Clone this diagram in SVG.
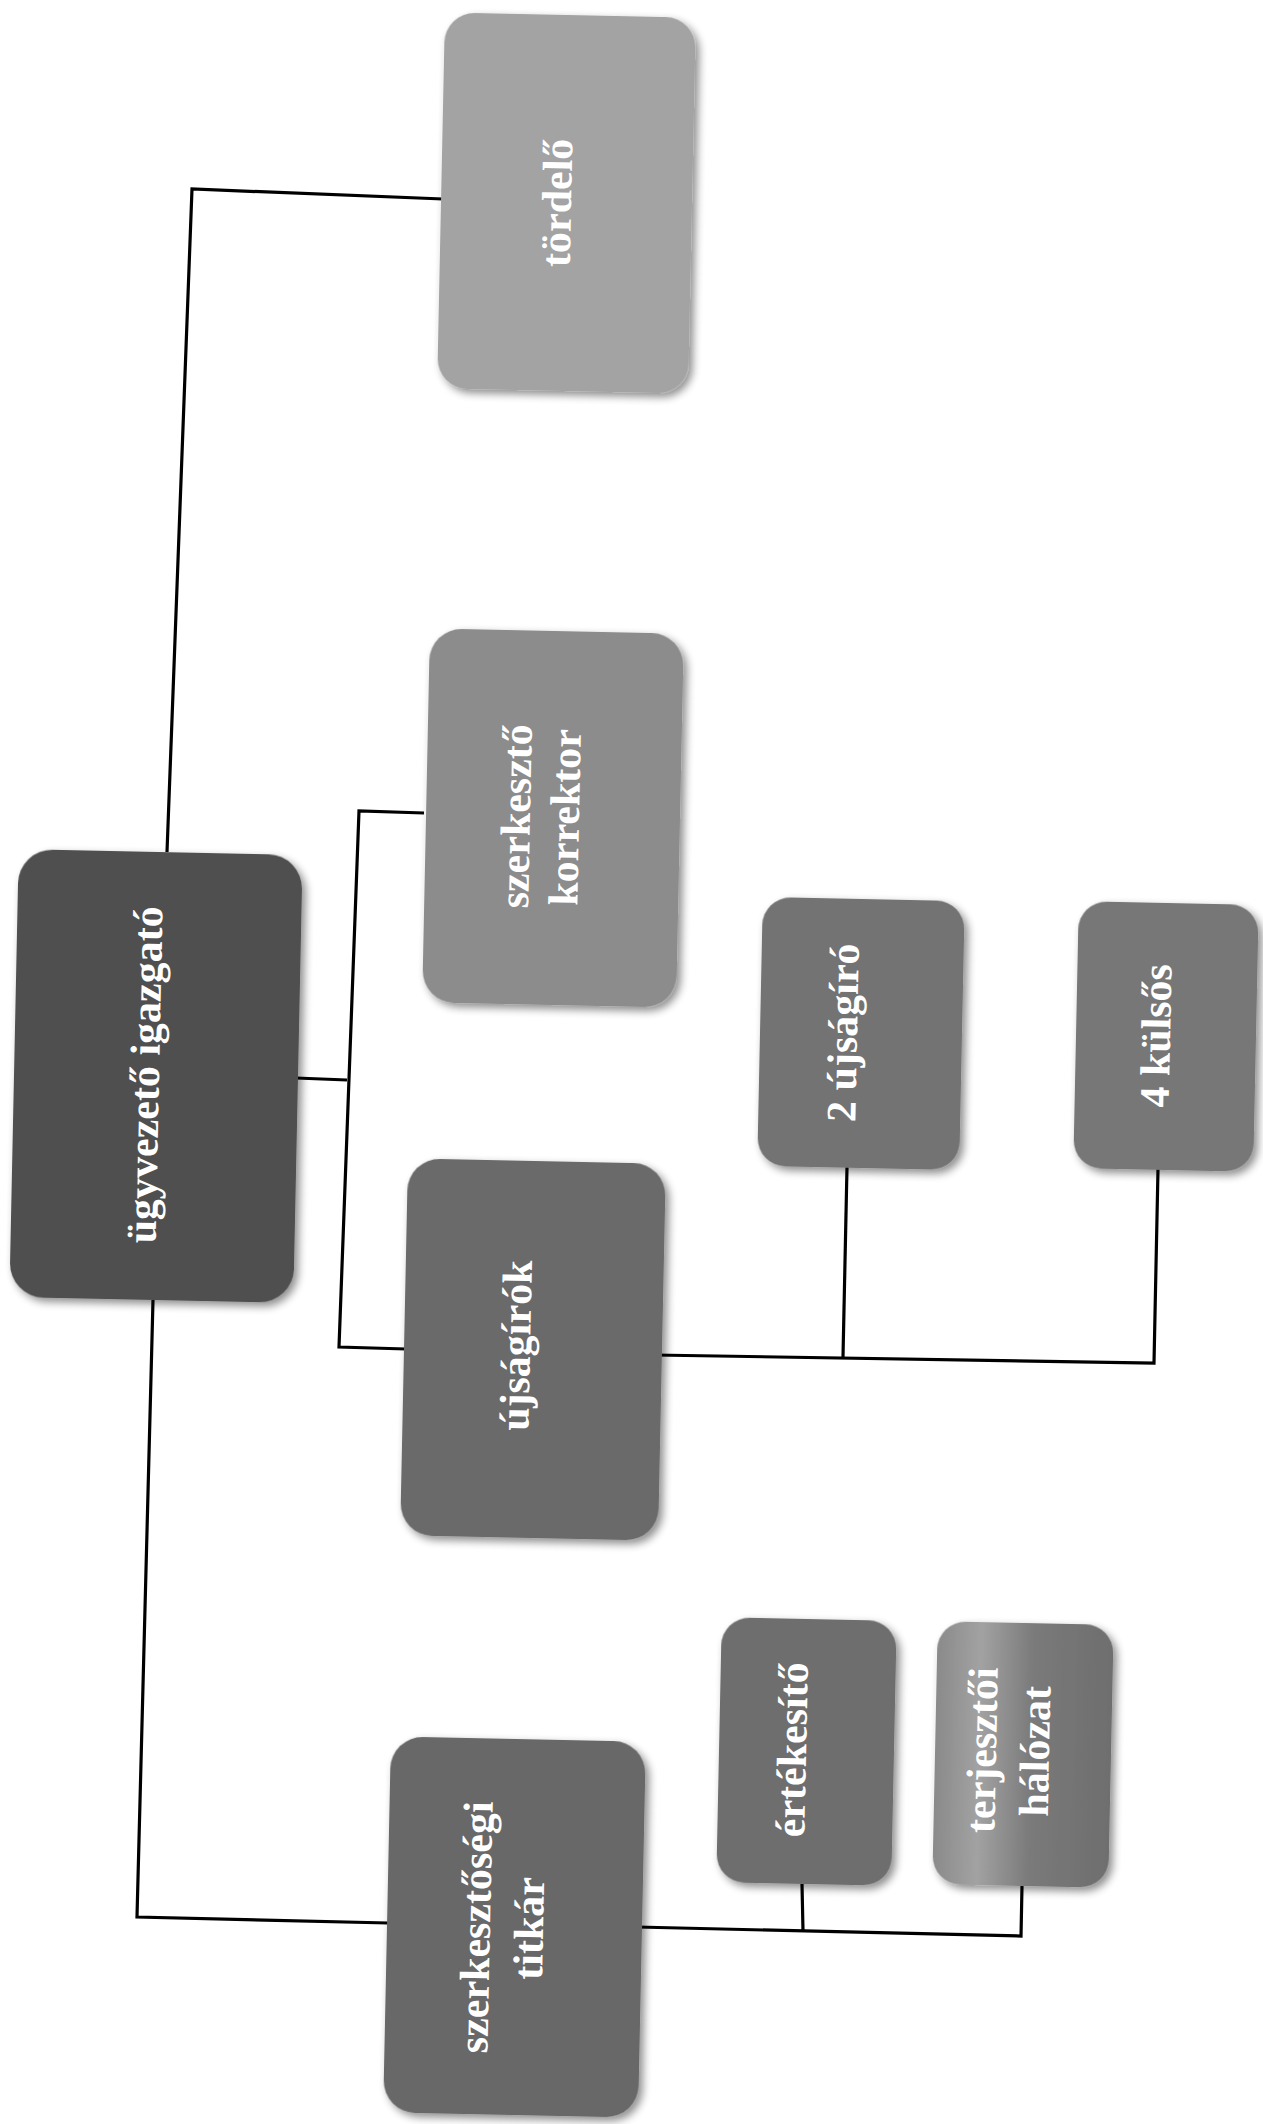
<svg xmlns="http://www.w3.org/2000/svg" width="1263" height="2124" viewBox="0 0 1263 2124">
<style>
.box{stroke:none}
.lbl{font-family:"Liberation Serif","Times New Roman",serif;font-weight:bold;font-size:42px;fill:#ffffff;text-anchor:middle}
.conn{fill:none;stroke:#000;stroke-width:3.2;stroke-linejoin:miter}
</style>
<defs>
<filter id="sh" x="-10%" y="-10%" width="125%" height="125%">
<feGaussianBlur in="SourceAlpha" stdDeviation="4"/>
<feOffset dx="4" dy="4" result="b"/>
<feComponentTransfer><feFuncA type="linear" slope="0.45"/></feComponentTransfer>
<feMerge><feMergeNode/><feMergeNode in="SourceGraphic"/></feMerge>
</filter>
<linearGradient id="gTerj" x1="0" y1="0" x2="1" y2="0">
<stop offset="0" stop-color="#8a8a8a"/>
<stop offset="0.25" stop-color="#a2a2a2"/>
<stop offset="0.55" stop-color="#7a7a7a"/>
<stop offset="1" stop-color="#6e6e6e"/>
</linearGradient>
</defs>
<rect width="1263" height="2124" fill="#ffffff"/>

<g id="connectors">
<polyline class="conn" points="443,199 192,189 167,852"/>
<polyline class="conn" points="153,1300 137,1917 388,1923"/>
<polyline class="conn" points="296,1078 347,1080"/>
<polyline class="conn" points="424,813 359,811 339,1347 406,1349"/>
<polyline class="conn" points="654,1355 1154,1363 1158,1169"/>
<polyline class="conn" points="843,1357 847,1167"/>
<polyline class="conn" points="637,1927 1021,1936 1022,1886"/>
<polyline class="conn" points="803,1931 802,1884"/>
</g>

<g id="node-tordelo" transform="rotate(1.2 566 203)">
<rect class="box" filter="url(#sh)" x="441" y="15" width="251" height="376" rx="30" fill="#a3a3a3"/>
<text class="lbl" transform="translate(557,203) rotate(-90)" x="0" y="14">tördelő</text>
</g>

<g id="node-ugyvezeto" transform="rotate(1.2 156 1076)">
<rect class="box" filter="url(#sh)" x="14" y="852" width="284" height="448" rx="34" fill="#4f4f4f"/>
<text class="lbl" transform="translate(145,1075) rotate(-90)" x="0" y="14">ügyvezető igazgató</text>
</g>

<g id="node-szerkeszto-korrektor" transform="rotate(1.2 553 818)">
<rect class="box" filter="url(#sh)" x="426" y="631" width="254" height="374" rx="32" fill="#8c8c8c"/>
<text class="lbl" transform="translate(540,817) rotate(-90)"><tspan x="0" y="-10">szerkesztő</tspan><tspan x="0" y="39">korrektor</tspan></text>
</g>

<g id="node-ujsagirok" transform="rotate(1.2 533 1350)">
<rect class="box" filter="url(#sh)" x="404" y="1161" width="258" height="377" rx="32" fill="#6b6b6b"/>
<text class="lbl" transform="translate(516,1346) rotate(-90)" x="0" y="14">újságírók</text>
</g>

<g id="node-2-ujsagiro" transform="rotate(1.2 861 1033)">
<rect class="box" filter="url(#sh)" x="760" y="899" width="202" height="269" rx="28" fill="#737373"/>
<text class="lbl" transform="translate(843,1033) rotate(-90)" x="0" y="14">2 újságíró</text>
</g>

<g id="node-4-kulsos" transform="rotate(1.2 1166 1036)">
<rect class="box" filter="url(#sh)" x="1076" y="903" width="180" height="267" rx="28" fill="#777777"/>
<text class="lbl" transform="translate(1156,1036) rotate(-90)" x="0" y="14">4 külsős</text>
</g>

<g id="node-szerkesztosegi-titkar" transform="rotate(1.2 514 1927)">
<rect class="box" filter="url(#sh)" x="387" y="1739" width="255" height="376" rx="32" fill="#686868"/>
<text class="lbl" transform="translate(502,1928) rotate(-90)"><tspan x="0" y="-12">szerkesztőségi</tspan><tspan x="0" y="41">titkár</tspan></text>
</g>

<g id="node-ertekesito" transform="rotate(1.2 806 1751)">
<rect class="box" filter="url(#sh)" x="719" y="1619" width="175" height="265" rx="28" fill="#6e6e6e"/>
<text class="lbl" transform="translate(792,1750) rotate(-90)" x="0" y="14">értékesítő</text>
</g>

<g id="node-terjesztoi-halozat" transform="rotate(1.2 1023 1754)">
<rect class="box" filter="url(#sh)" x="935" y="1623" width="176" height="263" rx="28" fill="url(#gTerj)"/>
<text class="lbl" transform="translate(1008,1751) rotate(-90)"><tspan x="0" y="-12">terjesztői</tspan><tspan x="0" y="41">hálózat</tspan></text>
</g>
</svg>
